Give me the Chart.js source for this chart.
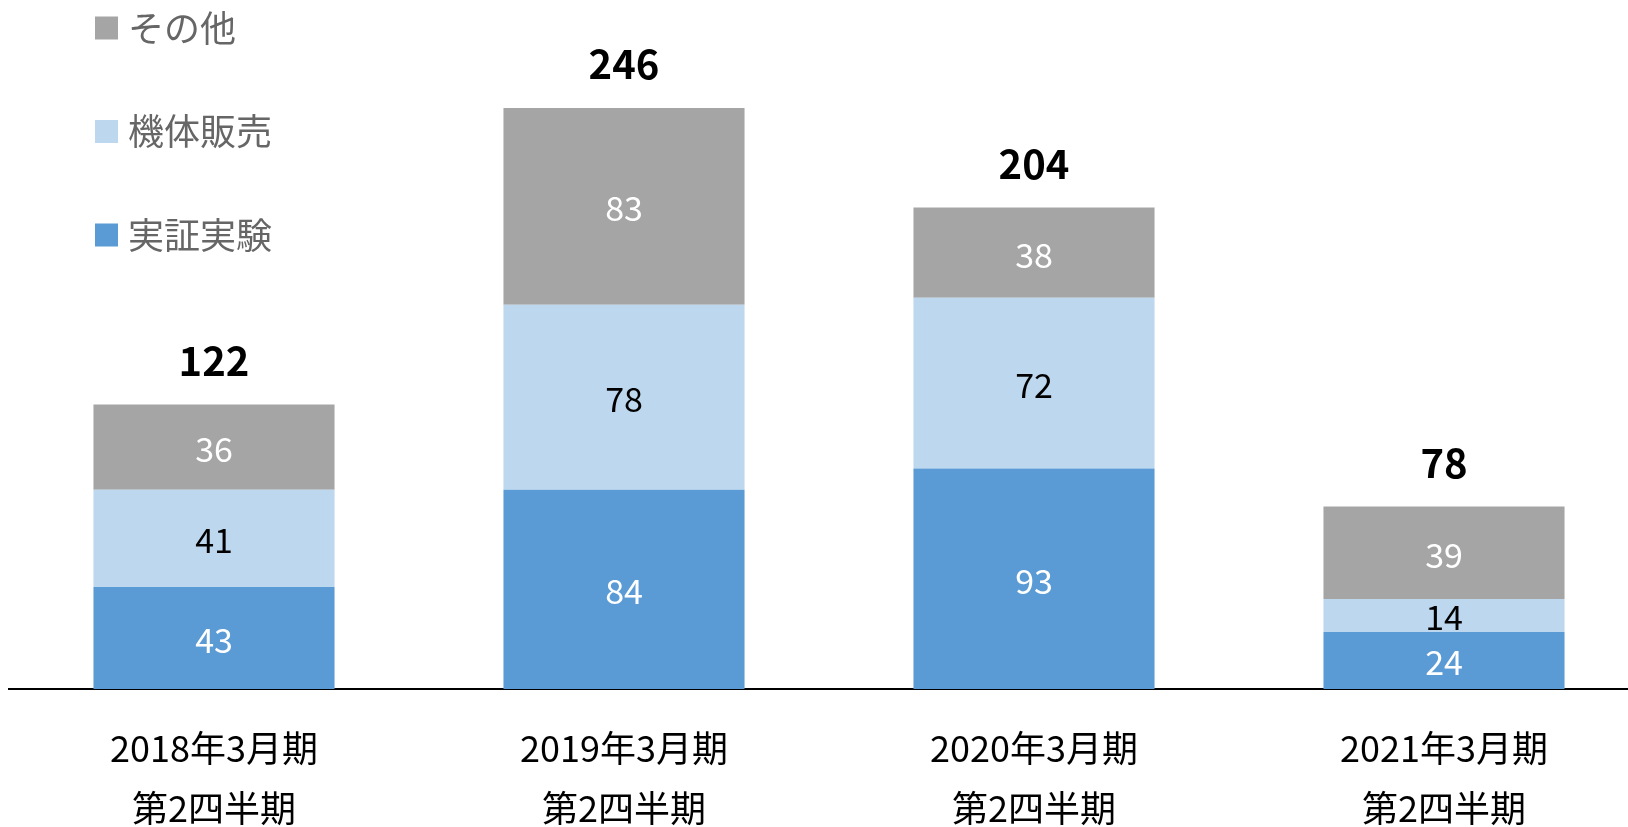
<!DOCTYPE html>
<html>
<head>
<meta charset="utf-8">
<script src="https://cdn.jsdelivr.net/npm/chart.js@4"></script>
<style>
  html, body { margin: 0; padding: 0; overflow: hidden; background: #fff; }
  #wrap { width: 1650px; height: 827px; position: relative; }
</style>
</head>
<body>
<div id="wrap"><canvas id="chart"></canvas></div>
<script>
const categories = [
  ['2018年3月期', '第2四半期'],
  ['2019年3月期', '第2四半期'],
  ['2020年3月期', '第2四半期'],
  ['2021年3月期', '第2四半期']
];
const jisshou = [43, 84, 93, 24];   // 実証実験
const kitai = [41, 78, 72, 14];     // 機体販売
const sonota = [36, 83, 38, 39];    // その他
const totals = [122, 246, 204, 78];

const FONT = '"Noto Sans CJK JP", "Open Sans", sans-serif';

// value labels inside segments + totals above each stack
const labelPlugin = {
  id: 'labels',
  afterDatasetsDraw(chart) {
    const ctx = chart.ctx;
    ctx.save();
    ctx.textAlign = 'center';
    ctx.textBaseline = 'middle';
    chart.data.datasets.forEach((ds, i) => {
      const meta = chart.getDatasetMeta(i);
      ctx.font = '34px ' + FONT;
      ctx.fillStyle = ds.labelColor;
      meta.data.forEach((bar, j) => {
        const y = (bar.y + bar.base) / 2;
        ctx.fillText(String(ds.data[j]), bar.x, y + 2);
      });
    });
    const top = chart.getDatasetMeta(chart.data.datasets.length - 1);
    ctx.font = 'bold 40px ' + FONT;
    ctx.fillStyle = '#000';
    top.data.forEach((bar, j) => {
      ctx.fillText(String(totals[j]), bar.x, bar.y - 44);
    });
    ctx.restore();
  }
};

// legend in the top-left corner, listed top to bottom in reverse order
const legendPlugin = {
  id: 'sideLegend',
  afterDraw(chart) {
    const ctx = chart.ctx;
    const items = chart.data.datasets.slice().reverse();
    ctx.save();
    ctx.font = '36px ' + FONT;
    ctx.textBaseline = 'middle';
    ctx.textAlign = 'left';
    items.forEach((ds, k) => {
      const cy = 28 + k * 103.5;
      ctx.fillStyle = ds.backgroundColor;
      ctx.fillRect(95, cy - 11.5, 23, 23);
      ctx.fillStyle = '#666666';
      ctx.fillText(ds.label, 128, cy);
    });
    ctx.restore();
  }
};

new Chart(document.getElementById('chart'), {
  type: 'bar',
  data: {
    labels: categories,
    datasets: [
      { label: '実証実験', data: jisshou, backgroundColor: '#5B9BD5', labelColor: '#ffffff' },
      { label: '機体販売', data: kitai, backgroundColor: '#BDD7EE', labelColor: '#000000' },
      { label: 'その他', data: sonota, backgroundColor: '#A5A5A5', labelColor: '#ffffff' }
    ]
  },
  options: {
    responsive: true,
    maintainAspectRatio: false,
    animation: false,
    layout: { padding: { top: 25, left: 9, right: 1, bottom: 0 } },
    datasets: {
      bar: { categoryPercentage: 1, barPercentage: 0.588, borderWidth: 0 }
    },
    plugins: {
      legend: { display: false },
      tooltip: { enabled: false }
    },
    scales: {
      x: {
        stacked: true,
        grid: { display: false, drawTicks: false },
        border: { display: true, color: '#000', width: 2 },
        ticks: {
          color: '#000',
          padding: 29,
          font: { family: FONT, size: 36, lineHeight: '60px' }
        },
        afterFit(scale) { scale.height = 138; }
      },
      y: {
        stacked: true,
        display: false,
        min: 0,
        max: 280
      }
    }
  },
  plugins: [labelPlugin, legendPlugin]
});
</script>
</body>
</html>
